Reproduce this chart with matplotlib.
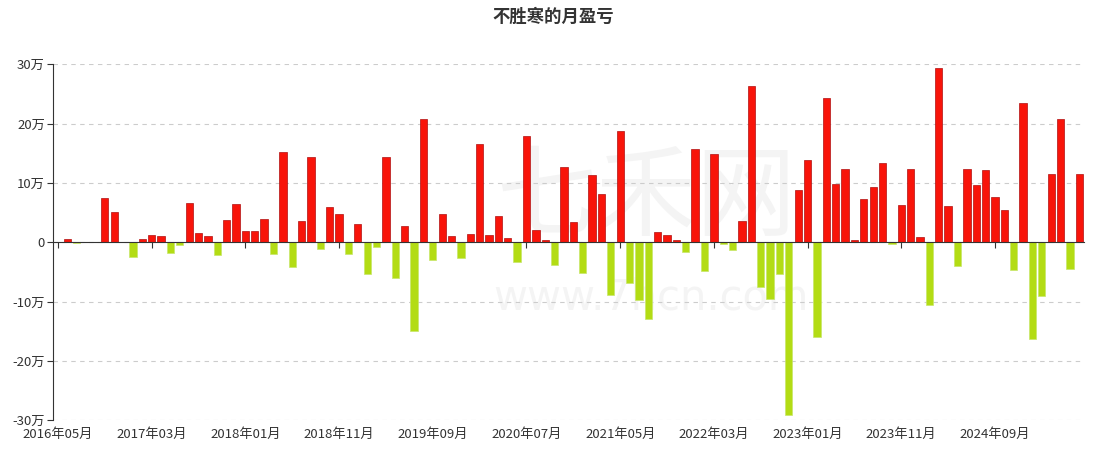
import numpy as np
import pandas as pd
import matplotlib
matplotlib.use('Agg')
import matplotlib.pyplot as plt
from matplotlib.ticker import FuncFormatter

plt.rcParams['font.family'] = ['Noto Sans CJK SC', 'DejaVu Sans']

# monthly profit / loss, unit: 万
start_month = '2016-05'
pnl = [
    0, 0.5, -0.15, 0, 0.1, 7.5, 5.1, 0, -2.5, 0.6,
    1.3, 1.1, -1.75, -0.4, 6.6, 1.6, 1.0, -2.1, 3.7, 6.4,
    1.9, 1.85, 3.9, -1.9, 15.3, -4.1, 3.55, 14.45, -1.1, 5.9,
    4.8, -2.0, 3.1, -5.4, -0.8, 14.45, -6.05, 2.75, -15.0, 20.8,
    -3.0, 4.75, 1.0, -2.7, 1.45, 16.6, 1.2, 4.45, 0.8, -3.3,
    17.9, 2.0, 0.35, -3.9, 12.65, 3.45, -5.2, 11.4, 8.1, -8.9,
    18.8, -6.8, -9.8, -12.9, 1.75, 1.2, 0.35, -1.6, 15.8, -4.8,
    14.9, -0.3, -1.35, 3.6, 26.4, -7.45, -9.55, -5.3, -29.1, 8.85,
    13.8, -16.0, 24.3, 9.9, 12.35, 0.35, 7.3, 9.35, 13.4, -0.35,
    6.25, 12.35, 0.85, -10.5, 29.3, 6.15, -4.05, 12.35, 9.6, 12.25,
    7.6, 5.4, -4.75, 23.4, -16.3, -9.0, 11.5, 20.7, -4.5, 11.55,
]
months = pd.period_range(start_month, periods=len(pnl), freq='M')
month_labels = [f'{p.year}年{p.month:02d}月' for p in months]
label_step = 10
y_ticks = [-30, -20, -10, 0, 10, 20, 30]
title = '不胜寒的月盈亏'

pos_color = '#f8140a'
neg_color = '#b3dc14'
text_color = '#333333'

fig = plt.figure(figsize=(10.93, 4.49), dpi=100)
ax = fig.add_axes([53.3 / 1093, 1 - 420.3 / 449, (1084 - 53.3) / 1093, (420.3 - 64.3) / 449])

x = np.arange(len(pnl))
vals = np.array(pnl)
colors = [pos_color if v >= 0 else neg_color for v in vals]
edges = ['#b01010' if v >= 0 else '#c8e66a' for v in vals]

# faint watermark
ax.text(0.575, 0.62, '七禾网', transform=ax.transAxes, ha='center', va='center',
        fontsize=72, color='#f4f4f4', zorder=0)
ax.text(0.58, 0.345, 'www.7hcn.com', transform=ax.transAxes, ha='center', va='center',
        fontsize=30, color='#f4f4f4', zorder=0, family=['DejaVu Sans'])

ax.bar(x, vals, width=0.78, color=colors, edgecolor=edges, linewidth=0.5, zorder=3)

ax.set_xlim(-0.5, len(pnl) - 0.5)
ax.set_ylim(-30, 30)
ax.set_yticks(y_ticks)
ax.yaxis.set_major_formatter(FuncFormatter(lambda v, p: '0' if v == 0 else f'{v:.0f}万'))
ax.grid(axis='y', linestyle=(0, (4, 4)), color='#cccccc', linewidth=0.8, zorder=0)

for s in ['top', 'right']:
    ax.spines[s].set_visible(False)
ax.spines['left'].set_color('#333333')
ax.spines['bottom'].set_position(('data', 0))
ax.spines['bottom'].set_color('#333333')
ax.spines['bottom'].set_zorder(4)

tick_pos = x[::label_step]
ax.set_xticks(tick_pos)
ax.tick_params(axis='x', direction='out', length=4, color='#333333', labelbottom=False)
ax.tick_params(axis='y', direction='out', length=4, color='#333333', labelsize=9.5,
               labelcolor=text_color, pad=2)

sec = ax.secondary_xaxis(0.0)
sec.set_xticks(tick_pos)
sec.set_xticklabels([month_labels[i] for i in tick_pos])
sec.tick_params(length=0, labelsize=9.5, labelcolor=text_color, pad=5.5)
sec.spines['bottom'].set_visible(False)

fig.text(553 / 1093, 1 - 17 / 449, title, ha='center', va='center', fontsize=12.5,
         fontweight='bold', color=text_color)

fig.savefig('out.png', dpi=100)
